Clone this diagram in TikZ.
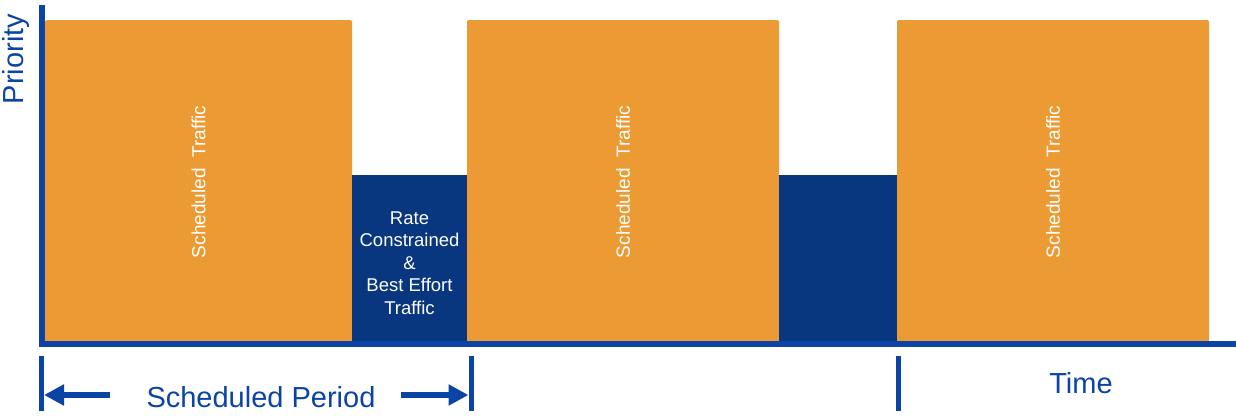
\documentclass[tikz,border=0pt]{standalone}
\usepackage{fontspec}
\setmainfont{Liberation Sans}
\usetikzlibrary{arrows.meta}
\definecolor{orng}{HTML}{EC9A33}
\definecolor{dblue}{HTML}{08367F}
\definecolor{axblue}{HTML}{0B44A5}
\begin{document}
\begin{tikzpicture}[x=1pt,y=-1pt,
  sched/.style={fill=orng, draw=none, rounded corners=2pt},
  rbe/.style={fill=dblue, draw=none},
  axis/.style={draw=axblue, line width=6pt},
  tick/.style={draw=axblue, line width=5pt},
  darr/.style={draw=axblue, line width=6.5pt, -{Triangle[length=20pt,width=20pt]}},
  stxt/.style={text=white, font=\fontsize{19}{22}\selectfont, rotate=90},
  btxt/.style={text=white, font=\fontsize{18.5}{22.5}\selectfont, align=center},
  lab/.style={text=axblue, font=\fontsize{29}{33}\selectfont}
]
\useasboundingbox (0,0) rectangle (1236,415);
% boxes
\fill[sched] (45,20) rectangle (352,343);
\fill[sched] (467,20) rectangle (779,343);
\fill[sched] (897,20) rectangle (1209,343);
\fill[rbe] (352,175) rectangle (467,343);
\fill[rbe] (779,175) rectangle (897,343);
\node[stxt] (s1) at (198.5,182) {Scheduled\ \ Traffic};
\node[stxt] (s2) at (623,182) {Scheduled\ \ Traffic};
\node[stxt] (s3) at (1053,182) {Scheduled\ \ Traffic};
\node[btxt] (b1) at (409.5,263) {Rate\\Constrained\\\&\\Best Effort\\Traffic};
% axes
\coordinate (ytop) at (41.5,5);
\coordinate (xend) at (1236,343.5);
\draw[axis] (ytop) -- (41.5,346.5);
\draw[axis] (38.5,343.5) -- (xend);
\node[lab, rotate=90] (prio) at (16,59) {Priority};
% ticks
\coordinate (t1a) at (41.5,356); \coordinate (t1b) at (41.5,411);
\coordinate (t2a) at (471,356); \coordinate (t2b) at (471,411);
\coordinate (t3a) at (898,356); \coordinate (t3b) at (898,411);
\draw[tick] (t1a) -- (t1b);
\draw[tick] (t2a) -- (t2b);
\draw[tick] (t3a) -- (t3b);
\coordinate (la) at (110,395); \coordinate (ra) at (401,395);
\draw[darr] (la) -- (44,395);
\draw[darr] (ra) -- (468.5,395);
\node[lab] (sp) at (261,397) {Scheduled Period};
\node[lab] (tm) at (1081,383) {Time};
\end{tikzpicture}
\end{document}
